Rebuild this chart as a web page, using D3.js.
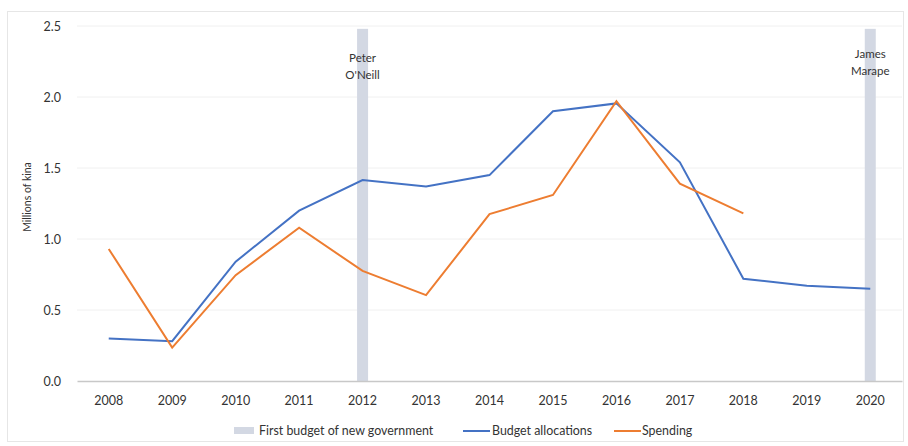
<!DOCTYPE html>
<html>
<head>
<meta charset="utf-8">
<script src="https://cdn.jsdelivr.net/npm/d3@7/dist/d3.min.js"></script>
<style>
  body { margin: 0; background: #fff; }
  svg text { font-family: Lato, "Open Sans", sans-serif; fill: #333; }
</style>
</head>
<body>
<svg id="chart" width="908" height="446"></svg>
<script>
// Years on the category axis
const years = [2008, 2009, 2010, 2011, 2012, 2013, 2014, 2015, 2016, 2017, 2018, 2019, 2020];
// Budget allocations, millions of kina
const budget = [0.30, 0.28, 0.84, 1.20, 1.415, 1.37, 1.45, 1.90, 1.955, 1.54, 0.72, 0.67, 0.65];
// Actual spending, millions of kina (through 2018)
const spending = [0.93, 0.235, 0.745, 1.08, 0.775, 0.605, 1.175, 1.31, 1.97, 1.39, 1.18];
// First budget of each new government
const govYears = [2012, 2020];
const govLabels = [["Peter", "O'Neill"], ["James", "Marape"]];
const yTicks = [0, 0.5, 1.0, 1.5, 2.0, 2.5];

const svg = d3.select("#chart");
const margin = { left: 77, right: 6, top: 26, bottom: 65 };
const W = 908, H = 446;

// outer frame
svg.append("rect").attr("x", 7.5).attr("y", 11.5).attr("width", 896).attr("height", 430)
  .attr("fill", "none").attr("stroke", "#e6e6e6");

const x = d3.scaleBand().domain(years).range([margin.left, W - margin.right]);
const y = d3.scaleLinear().domain([0, 2.5]).range([H - margin.bottom, margin.top]);
const cx = d => x(d) + x.bandwidth() / 2;

// gridlines
svg.append("g").selectAll("line").data(yTicks.filter(t => t > 0)).join("line")
  .attr("x1", margin.left).attr("x2", W - margin.right)
  .attr("y1", d => y(d)).attr("y2", d => y(d))
  .attr("stroke", "#f0f0f0").attr("stroke-width", 1);

// government change bars
svg.append("g").selectAll("rect").data(govYears).join("rect")
  .attr("x", d => cx(d) - 5.5).attr("width", 11)
  .attr("y", y(2.48)).attr("height", y(0) - y(2.48))
  .attr("fill", "#d3d8e3");

// bar labels
const lblY = [62, 58];
govYears.forEach((g, i) => {
  const t = svg.append("text").attr("x", cx(g)).attr("y", lblY[i])
    .attr("text-anchor", "middle").attr("font-size", 11.5);
  govLabels[i].forEach((s, j) => {
    t.append("tspan").attr("x", cx(g)).attr("dy", j === 0 ? 0 : 16.5).text(s);
  });
});

// y axis labels
const yAxis = d3.axisLeft(y).tickValues(yTicks).tickFormat(d3.format(".1f")).tickSize(0).tickPadding(16);
const ya = svg.append("g").attr("transform", `translate(${margin.left},0)`).call(yAxis);
ya.select(".domain").remove();
ya.selectAll("text").attr("font-size", 12.5).style("font-family", "Lato, sans-serif").attr("fill", "#333");

// x axis
const xAxis = d3.axisBottom(x).tickSize(0).tickPadding(15);
const xa = svg.append("g").attr("transform", `translate(0,${y(0)})`).call(xAxis);
xa.select(".domain").attr("stroke", "#c8c8c8").attr("stroke-width", 1.5);
xa.selectAll("text").attr("font-size", 12.5).style("font-family", "Lato, sans-serif").attr("fill", "#333");

// axis title
svg.append("text").attr("transform", `translate(31,${197}) rotate(-90)`)
  .attr("text-anchor", "middle").attr("font-size", 10.5).text("Millions of kina");

// lines
const line = d3.line().x((d, i) => cx(years[i])).y(d => y(d));
svg.append("path").datum(budget).attr("d", line)
  .attr("fill", "none").attr("stroke", "#4472c4").attr("stroke-width", 2);
svg.append("path").datum(spending).attr("d", line)
  .attr("fill", "none").attr("stroke", "#ed7d31").attr("stroke-width", 2);

// legend
const lg = svg.append("g").attr("font-size", 12.4);
lg.append("rect").attr("x", 234).attr("y", 427).attr("width", 20).attr("height", 7).attr("fill", "#d3d8e3");
lg.append("text").attr("x", 259).attr("y", 435).text("First budget of new government");
lg.append("line").attr("x1", 463).attr("x2", 490).attr("y1", 431).attr("y2", 431).attr("stroke", "#4472c4").attr("stroke-width", 2);
lg.append("text").attr("x", 492).attr("y", 435).text("Budget allocations");
lg.append("line").attr("x1", 614).attr("x2", 641).attr("y1", 431).attr("y2", 431).attr("stroke", "#ed7d31").attr("stroke-width", 2);
lg.append("text").attr("x", 642).attr("y", 435).text("Spending");
</script>
</body>
</html>
